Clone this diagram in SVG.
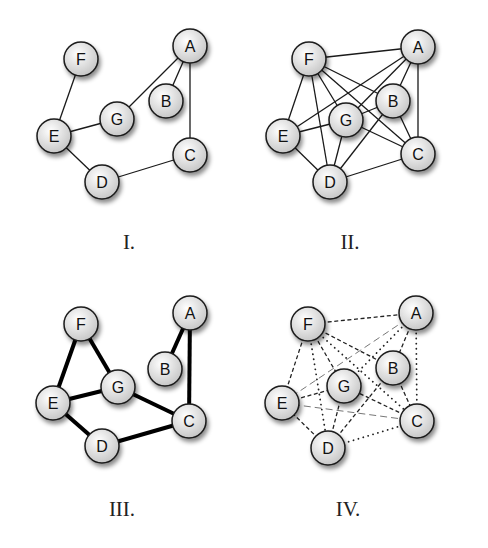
<svg xmlns="http://www.w3.org/2000/svg" width="488" height="548" viewBox="0 0 488 548">
<defs>
<radialGradient id="g" cx="0.4" cy="0.35" r="0.7">
<stop offset="0" stop-color="#ffffff"/>
<stop offset="1" stop-color="#c4c4c4"/>
</radialGradient>
<filter id="sh" x="-50%" y="-50%" width="200%" height="200%">
<feDropShadow dx="2" dy="3.5" stdDeviation="2.2" flood-color="#000" flood-opacity="0.45"/>
</filter>
<style>
.n circle{fill:url(#g);stroke:#1a1a1a;stroke-width:1.5;filter:url(#sh)}
.n text{font-family:"Liberation Sans",Arial,sans-serif;font-size:16px;text-anchor:middle;fill:#111}
.e1 line{stroke:#1a1a1a;stroke-width:1.3}
.e3 line{stroke:#000;stroke-width:4}
.da{stroke:#222;stroke-width:1.3;stroke-dasharray:4 2.6}
.do{stroke:#222;stroke-width:1.8;stroke-dasharray:0.1 5;stroke-linecap:round}
.lg{stroke:#777;stroke-width:1;stroke-dasharray:7 4}
.cap{font-family:"Liberation Serif","Times New Roman",serif;font-size:21px;text-anchor:middle;fill:#222}
</style>
</defs>
<rect width="488" height="548" fill="#fff"/>
<g id="connectors">
<g class="e1">
<line x1="81" y1="59" x2="54" y2="136"/>
<line x1="54" y1="136" x2="117" y2="119"/>
<line x1="117" y1="119" x2="190" y2="46"/>
<line x1="190" y1="46" x2="166" y2="101"/>
<line x1="190" y1="46" x2="190" y2="155"/>
<line x1="190" y1="155" x2="102" y2="182"/>
<line x1="102" y1="182" x2="54" y2="136"/>
</g>
<g class="e1">
<line x1="309" y1="59" x2="418" y2="47"/>
<line x1="309" y1="59" x2="283" y2="136"/>
<line x1="309" y1="59" x2="330" y2="182"/>
<line x1="309" y1="59" x2="346" y2="120"/>
<line x1="309" y1="59" x2="393" y2="101"/>
<line x1="309" y1="59" x2="418" y2="154"/>
<line x1="418" y1="47" x2="283" y2="136"/>
<line x1="418" y1="47" x2="346" y2="120"/>
<line x1="418" y1="47" x2="393" y2="101"/>
<line x1="418" y1="47" x2="418" y2="154"/>
<line x1="393" y1="101" x2="346" y2="120"/>
<line x1="393" y1="101" x2="418" y2="154"/>
<line x1="393" y1="101" x2="330" y2="182"/>
<line x1="418" y1="154" x2="346" y2="120"/>
<line x1="418" y1="154" x2="330" y2="182"/>
<line x1="330" y1="182" x2="283" y2="136"/>
<line x1="330" y1="182" x2="346" y2="120"/>
<line x1="283" y1="136" x2="346" y2="120"/>
</g>
<g class="e3">
<line x1="81" y1="324" x2="53" y2="403"/>
<line x1="81" y1="324" x2="118" y2="387"/>
<line x1="53" y1="403" x2="118" y2="387"/>
<line x1="53" y1="403" x2="102" y2="446"/>
<line x1="102" y1="446" x2="189" y2="421"/>
<line x1="118" y1="387" x2="189" y2="421"/>
<line x1="190" y1="313" x2="165" y2="369"/>
<line x1="190" y1="313" x2="189" y2="421"/>
</g>
<g>
<line class="da" x1="308" y1="324" x2="416" y2="313"/>
<line class="da" x1="308" y1="324" x2="282" y2="403"/>
<line class="da" x1="308" y1="324" x2="344" y2="386"/>
<line class="da" x1="308" y1="324" x2="393" y2="368"/>
<line class="do" x1="308" y1="324" x2="328" y2="448"/>
<line class="do" x1="308" y1="324" x2="417" y2="421"/>
<line class="lg" x1="416" y1="313" x2="282" y2="403"/>
<line class="do" x1="416" y1="313" x2="344" y2="386"/>
<line class="da" x1="416" y1="313" x2="393" y2="368"/>
<line class="do" x1="416" y1="313" x2="417" y2="421"/>
<line class="da" x1="393" y1="368" x2="417" y2="421"/>
<line class="da" x1="393" y1="368" x2="328" y2="448"/>
<line class="da" x1="417" y1="421" x2="344" y2="386"/>
<line class="do" x1="417" y1="421" x2="328" y2="448"/>
<line class="da" x1="328" y1="448" x2="282" y2="403"/>
<line class="da" x1="328" y1="448" x2="344" y2="386"/>
<line class="da" x1="282" y1="403" x2="344" y2="386"/>
<line class="lg" x1="282" y1="403" x2="417" y2="421"/>
</g>
</g>
<g id="p1-F" class="n"><circle cx="81" cy="59" r="17"/><text x="81" y="65">F</text></g>
<g id="p1-A" class="n"><circle cx="190" cy="46" r="17"/><text x="190" y="52">A</text></g>
<g id="p1-B" class="n"><circle cx="166" cy="101" r="17"/><text x="166" y="107">B</text></g>
<g id="p1-G" class="n"><circle cx="117" cy="119" r="17"/><text x="117" y="125">G</text></g>
<g id="p1-E" class="n"><circle cx="54" cy="136" r="17"/><text x="54" y="142">E</text></g>
<g id="p1-C" class="n"><circle cx="190" cy="155" r="17"/><text x="190" y="161">C</text></g>
<g id="p1-D" class="n"><circle cx="102" cy="182" r="17"/><text x="102" y="188">D</text></g>

<g id="p2-F" class="n"><circle cx="309" cy="59" r="17"/><text x="309" y="65">F</text></g>
<g id="p2-A" class="n"><circle cx="418" cy="47" r="17"/><text x="418" y="53">A</text></g>
<g id="p2-B" class="n"><circle cx="393" cy="101" r="17"/><text x="393" y="107">B</text></g>
<g id="p2-G" class="n"><circle cx="346" cy="120" r="17"/><text x="346" y="126">G</text></g>
<g id="p2-E" class="n"><circle cx="283" cy="136" r="17"/><text x="283" y="142">E</text></g>
<g id="p2-C" class="n"><circle cx="418" cy="154" r="17"/><text x="418" y="160">C</text></g>
<g id="p2-D" class="n"><circle cx="330" cy="182" r="17"/><text x="330" y="188">D</text></g>

<g id="p3-F" class="n"><circle cx="81" cy="324" r="17"/><text x="81" y="330">F</text></g>
<g id="p3-A" class="n"><circle cx="190" cy="313" r="17"/><text x="190" y="319">A</text></g>
<g id="p3-B" class="n"><circle cx="165" cy="369" r="17"/><text x="165" y="375">B</text></g>
<g id="p3-G" class="n"><circle cx="118" cy="387" r="17"/><text x="118" y="393">G</text></g>
<g id="p3-E" class="n"><circle cx="53" cy="403" r="17"/><text x="53" y="409">E</text></g>
<g id="p3-C" class="n"><circle cx="189" cy="421" r="17"/><text x="189" y="427">C</text></g>
<g id="p3-D" class="n"><circle cx="102" cy="446" r="17"/><text x="102" y="452">D</text></g>

<g id="p4-F" class="n"><circle cx="308" cy="324" r="17"/><text x="308" y="330">F</text></g>
<g id="p4-A" class="n"><circle cx="416" cy="313" r="17"/><text x="416" y="319">A</text></g>
<g id="p4-B" class="n"><circle cx="393" cy="368" r="17"/><text x="393" y="374">B</text></g>
<g id="p4-G" class="n"><circle cx="344" cy="386" r="17"/><text x="344" y="392">G</text></g>
<g id="p4-E" class="n"><circle cx="282" cy="403" r="17"/><text x="282" y="409">E</text></g>
<g id="p4-C" class="n"><circle cx="417" cy="421" r="17"/><text x="417" y="427">C</text></g>
<g id="p4-D" class="n"><circle cx="328" cy="448" r="17"/><text x="328" y="454">D</text></g>

<text class="cap" x="129" y="249">I.</text>
<text class="cap" x="350" y="249">II.</text>
<text class="cap" x="122" y="516">III.</text>
<text class="cap" x="348" y="516">IV.</text>
</svg>
